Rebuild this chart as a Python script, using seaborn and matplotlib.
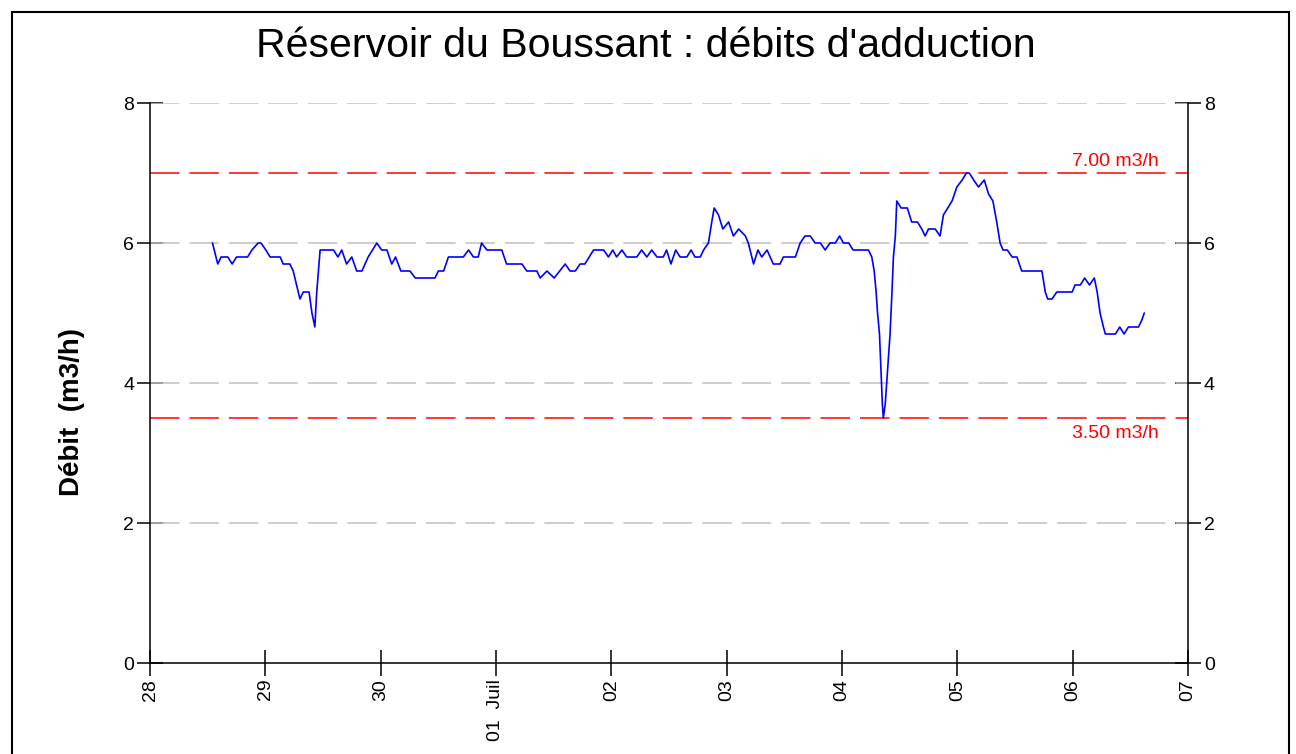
import numpy as np
import pandas as pd
import seaborn as sns
import matplotlib.pyplot as plt
from matplotlib.patches import Rectangle

# heures depuis le 28 juin 00:00
hours = [13.0, 14.1, 14.8, 16.2, 17.1, 18.0, 20.3, 21.2, 22.5, 23.1,
         24.1, 25.0, 27.1, 27.7, 29.1, 29.8, 30.5, 31.2, 31.9, 33.1,
         33.7, 34.3, 34.7, 35.4, 38.2, 39.1, 39.9, 40.9, 42.0, 43.0,
         44.1, 45.4, 47.2, 48.2, 49.3, 50.3, 51.1, 52.2, 54.1, 55.2,
         59.3, 60.0, 61.1, 62.1, 65.2, 66.3, 67.3, 68.3, 69.0, 70.1,
         73.2, 74.2, 77.4, 78.4, 80.5, 81.2, 82.6, 84.1, 86.4, 87.4,
         88.5, 89.5, 90.5, 92.3, 94.4, 95.4, 96.3, 97.1, 98.2, 99.2,
         101.3, 102.3, 103.4, 104.4, 105.5, 106.8, 107.5, 108.4, 109.4, 110.3,
         111.7, 112.6, 113.4, 114.5, 115.2, 116.2, 116.9, 117.4, 118.3, 119.2,
         120.4, 121.4, 122.5, 123.9, 124.5, 125.6, 126.5, 127.3, 128.4, 129.7,
         131.1, 131.8, 134.3, 135.3, 136.3, 137.4, 138.4, 139.5, 140.5, 141.5,
         142.6, 143.5, 144.3, 145.4, 146.3, 149.5, 150.2, 150.7, 151.1, 151.4,
         151.8, 152.1, 152.4, 152.6, 153.0, 153.5, 154.0, 154.4, 154.7, 155.1,
         155.4, 156.3, 157.6, 158.5, 159.7, 160.6, 161.3, 162.0, 163.4, 164.4,
         165.1, 166.0, 166.9, 167.9, 169.0, 169.9, 170.5, 171.4, 172.4, 173.6,
         174.5, 175.4, 176.2, 176.9, 177.5, 178.4, 179.4, 180.4, 181.4, 185.6,
         186.3, 186.8, 187.7, 188.7, 191.9, 192.5, 193.6, 194.5, 195.5, 196.5,
         197.1, 197.7, 198.4, 198.8, 200.9, 201.8, 202.7, 203.6, 205.7, 206.4,
         206.9]
debit = [6.0, 5.7, 5.8, 5.8, 5.7, 5.8, 5.8, 5.9, 6.0, 6.0,
         5.9, 5.8, 5.8, 5.7, 5.7, 5.6, 5.4, 5.2, 5.3, 5.3,
         5.0, 4.8, 5.3, 5.9, 5.9, 5.8, 5.9, 5.7, 5.8, 5.6,
         5.6, 5.8, 6.0, 5.9, 5.9, 5.7, 5.8, 5.6, 5.6, 5.5,
         5.5, 5.6, 5.6, 5.8, 5.8, 5.9, 5.8, 5.8, 6.0, 5.9,
         5.9, 5.7, 5.7, 5.6, 5.6, 5.5, 5.6, 5.5, 5.7, 5.6,
         5.6, 5.7, 5.7, 5.9, 5.9, 5.8, 5.9, 5.8, 5.9, 5.8,
         5.8, 5.9, 5.8, 5.9, 5.8, 5.8, 5.9, 5.7, 5.9, 5.8,
         5.8, 5.9, 5.8, 5.8, 5.9, 6.0, 6.3, 6.5, 6.4, 6.2,
         6.3, 6.1, 6.2, 6.1, 6.0, 5.7, 5.9, 5.8, 5.9, 5.7,
         5.7, 5.8, 5.8, 6.0, 6.1, 6.1, 6.0, 6.0, 5.9, 6.0,
         6.0, 6.1, 6.0, 6.0, 5.9, 5.9, 5.8, 5.6, 5.3, 5.0,
         4.7, 4.2, 3.7, 3.5, 3.7, 4.2, 4.7, 5.3, 5.8, 6.1,
         6.6, 6.5, 6.5, 6.3, 6.3, 6.2, 6.1, 6.2, 6.2, 6.1,
         6.4, 6.5, 6.6, 6.8, 6.9, 7.0, 7.0, 6.9, 6.8, 6.9,
         6.7, 6.6, 6.3, 6.0, 5.9, 5.9, 5.8, 5.8, 5.6, 5.6,
         5.3, 5.2, 5.2, 5.3, 5.3, 5.4, 5.4, 5.5, 5.4, 5.5,
         5.3, 5.0, 4.8, 4.7, 4.7, 4.8, 4.7, 4.8, 4.8, 4.9,
         5.0]

seuil_haut = 7.0
seuil_bas = 3.5
jours = ['28', '29', '30', '01  Juil', '02', '03', '04', '05', '06', '07']
y_ticks = [0, 2, 4, 6, 8]

sns.set_style('white')
plt.rcParams['font.family'] = ['Liberation Sans', 'DejaVu Sans']
plt.rcParams['lines.scale_dashes'] = False
plt.rcParams['text.color'] = 'black'
plt.rcParams['xtick.color'] = 'black'
plt.rcParams['ytick.color'] = 'black'

df = pd.DataFrame({'heure': hours, 'debit': debit})

fig = plt.figure(figsize=(12.96, 7.54), dpi=100)
ax = fig.add_axes([150 / 1296, 91 / 754, 1038 / 1296, 560 / 754])

dash = (21.2, 7.2)
for v in [2, 4, 6, 8]:
    ax.axhline(v, color='#c0c0c0', lw=1.1, dashes=dash, zorder=1)
for v in [seuil_haut, seuil_bas]:
    ax.axhline(v, color='red', lw=1.1, dashes=dash, zorder=2)

sns.lineplot(data=df, x='heure', y='debit', color='blue', lw=1.2,
             ax=ax, zorder=3)

ax.text(210, seuil_haut + 0.05, f'{seuil_haut:.2f} m3/h', color='red',
        fontsize=14, ha='right', va='bottom')
ax.text(210, seuil_bas - 0.1, f'{seuil_bas:.2f} m3/h', color='red',
        fontsize=14, ha='right', va='top')

ax.set_xlim(0, 216)
ax.set_ylim(0, 8)
ax.set_xticks(np.arange(0, 217, 24))
ax.set_xticklabels(jours, rotation=90)
ax.set_yticks(y_ticks)
ax.set_xlabel('')
ax.set_ylabel('')
ax.tick_params(axis='both', direction='inout', length=18.7, width=1.1,
               labelsize=14, color='black', labelcolor='black', pad=2)
ax.tick_params(axis='y', left=True, right=True, labelleft=True, labelright=True)
ax.tick_params(axis='x', bottom=True)

ax.spines['top'].set_visible(False)
for s in ['left', 'right', 'bottom']:
    ax.spines[s].set_color('black')
    ax.spines[s].set_linewidth(1.1)

fig.text(646 / 1296, 1 - 46 / 754, "Réservoir du Boussant : débits d'adduction",
         ha='center', va='center', fontsize=29.6, color='black')
fig.text(72 / 1296, 1 - 412 / 754, 'Débit  (m3/h)', rotation=90,
         ha='center', va='center', fontsize=20, fontweight='bold', color='black')

fig.patches.append(Rectangle((12 / 1296, -0.05), 1277 / 1296, 1.05 - 12 / 754,
                             transform=fig.transFigure, fill=False,
                             lw=1.5, edgecolor='black'))

fig.savefig('out.png', dpi=100)
